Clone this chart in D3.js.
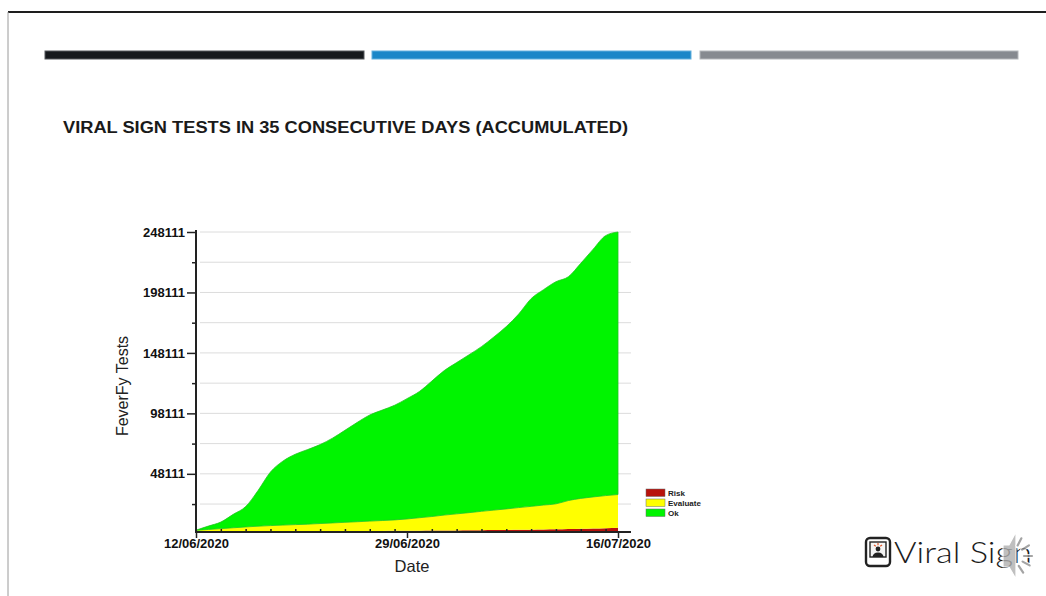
<!DOCTYPE html>
<html>
<head>
<meta charset="utf-8">
<script src="https://cdn.jsdelivr.net/npm/d3@7"></script>
<style>
  body { margin: 0; background: #fff; }
  svg { display: block; }
  text { font-family: "Liberation Sans", Arial, Helvetica, sans-serif; }
</style>
</head>
<body>
<svg id="chart" width="1046" height="596"></svg>
<script>
// Days covered by the report
const days = [
  "12/06/2020","13/06/2020","14/06/2020","15/06/2020","16/06/2020","17/06/2020","18/06/2020",
  "19/06/2020","20/06/2020","21/06/2020","22/06/2020","23/06/2020","24/06/2020","25/06/2020",
  "26/06/2020","27/06/2020","28/06/2020","29/06/2020","30/06/2020","01/07/2020","02/07/2020",
  "03/07/2020","04/07/2020","05/07/2020","06/07/2020","07/07/2020","08/07/2020","09/07/2020",
  "10/07/2020","11/07/2020","12/07/2020","13/07/2020","14/07/2020","15/07/2020","16/07/2020"
];

// Accumulated tests per result class
const riskTotals = [
  0, 50, 100, 150, 200, 260, 320, 380, 440, 500, 560, 620, 680, 740, 800, 870, 940, 1010,
  1090, 1170, 1250, 1340, 1430, 1520, 1620, 1720, 1830, 1950, 2080, 2220, 2450, 2700, 2950, 3200, 3450
];
const evaluateTotals = [
  1400, 2050, 2700, 3350, 4000, 4540, 4980, 5320, 5660, 6000, 6440, 6880, 7320, 7760, 8200, 8630,
  9060, 9790, 10710, 11630, 12750, 13660, 14570, 15580, 16480, 17380, 18370, 19250, 20220, 21080,
  23550, 25100, 26050, 26900, 27550
];
const okTotals = [
  100, 2800, 5400, 11100, 16800, 29500, 44300, 52900, 58200, 61700, 65300, 70100, 76100, 82200,
  87800, 91300, 94800, 99500, 104400, 112000, 119500, 125100, 130600, 136200, 143200, 150800,
  160100, 171800, 178100, 183700, 185100, 194400, 204900, 215000, 217111
];

// Axis ticks
const yMajorTicks = [48111, 98111, 148111, 198111, 248111];
const yMinorTicks = [23111, 73111, 123111, 173111, 223111];
const xMajorTicks = ["12/06/2020", "29/06/2020", "16/07/2020"];
const xMinorTicks = [
  "14/06/2020","16/06/2020","18/06/2020","20/06/2020","22/06/2020","24/06/2020","26/06/2020","28/06/2020",
  "01/07/2020","03/07/2020","05/07/2020","07/07/2020","09/07/2020","11/07/2020","13/07/2020","15/07/2020"
];

const seriesKeys = ["Risk", "Evaluate", "Ok"];
const seriesColors = { Risk: "#b8120c", Evaluate: "#ffff00", Ok: "#00f400" };

const parseDay = d3.timeParse("%d/%m/%Y");
const formatDay = d3.timeFormat("%d/%m/%Y");

const rows = days.map((d, i) => ({
  date: parseDay(d),
  Risk: riskTotals[i],
  Evaluate: evaluateTotals[i],
  Ok: okTotals[i]
}));

const svg = d3.select("#chart");

// ---- slide frame ----
svg.append("line").attr("x1", 8).attr("x2", 1046).attr("y1", 12).attr("y2", 12)
  .attr("stroke", "#1e1e1e").attr("stroke-width", 2);
svg.append("line").attr("x1", 8).attr("x2", 8).attr("y1", 12).attr("y2", 596)
  .attr("stroke", "#9a9a9a").attr("stroke-width", 1);

const bands = [
  { x: 45, w: 319, fill: "#16191d", edge: "#55585c" },
  { x: 372, w: 319, fill: "#1b87c8", edge: "#62b0de" },
  { x: 700, w: 318, fill: "#868a90", edge: "#b4b7bb" }
];
svg.selectAll("rect.band").data(bands).join("rect")
  .attr("class", "band")
  .attr("x", d => d.x).attr("y", 51).attr("width", d => d.w).attr("height", 8)
  .attr("fill", d => d.fill).attr("stroke", d => d.edge).attr("stroke-width", 1);

svg.append("text")
  .attr("x", 63).attr("y", 133)
  .attr("font-size", 16).attr("font-weight", "bold").attr("fill", "#1a1a1a")
  .attr("textLength", 565).attr("lengthAdjust", "spacingAndGlyphs")
  .text("VIRAL SIGN TESTS IN 35 CONSECUTIVE DAYS (ACCUMULATED)");

// ---- chart ----
const x = d3.scaleTime()
  .domain([parseDay(days[0]), parseDay(days[days.length - 1])])
  .range([196, 618]);
const y = d3.scaleLinear().domain([0, 248111]).range([532, 232]);

// grid lines at every tick
svg.append("g").selectAll("line")
  .data(yMajorTicks.concat(yMinorTicks)).join("line")
  .attr("x1", 200).attr("x2", 631)
  .attr("y1", d => y(d)).attr("y2", d => y(d))
  .attr("stroke", "#dcdcdc").attr("stroke-width", 1);

// stacked areas
const stacked = d3.stack().keys(seriesKeys)(rows);
const area = d3.area()
  .x(d => x(d.data.date))
  .y0(d => y(d[0]))
  .y1(d => y(d[1]))
  .curve(d3.curveMonotoneX);

svg.append("g").selectAll("path")
  .data(stacked).join("path")
  .attr("d", area)
  .attr("fill", d => seriesColors[d.key])
  .attr("stroke", d => d.key === "Ok" ? "#1fc41f" : "none")
  .attr("stroke-width", 0.8);

// y axis
const yAxis = svg.append("g").attr("transform", "translate(196,0)")
  .call(d3.axisLeft(y).tickValues(yMajorTicks).tickSize(9).tickSizeOuter(0)
    .tickPadding(2).tickFormat(d3.format("d")));
yAxis.select(".domain").remove();
yAxis.selectAll(".tick line").attr("stroke", "#222").attr("stroke-width", 1.5);
yAxis.selectAll(".tick text")
  .attr("font-size", 13).attr("font-weight", "bold").attr("fill", "#111")
  .style("font-family", "'Liberation Sans', Arial, sans-serif");

const yMinor = svg.append("g").attr("transform", "translate(196,0)")
  .call(d3.axisLeft(y).tickValues(yMinorTicks).tickSize(4).tickSizeOuter(0).tickFormat(""));
yMinor.select(".domain").remove();
yMinor.selectAll(".tick line").attr("stroke", "#222").attr("stroke-width", 1.5);

// x axis
const xAxis = svg.append("g").attr("transform", `translate(0,${y(0)})`)
  .call(d3.axisBottom(x).tickValues(xMajorTicks.map(parseDay)).tickSize(6)
    .tickSizeOuter(0).tickPadding(1).tickFormat(formatDay));
xAxis.select(".domain").remove();
xAxis.selectAll(".tick line").attr("stroke", "#222").attr("stroke-width", 1.5);
xAxis.selectAll(".tick text")
  .attr("font-size", 13).attr("font-weight", "bold").attr("fill", "#111")
  .style("font-family", "'Liberation Sans', Arial, sans-serif");

const xMinor = svg.append("g").attr("transform", `translate(0,${y(0)})`)
  .call(d3.axisBottom(x).tickValues(xMinorTicks.map(parseDay)).tickSize(-3)
    .tickSizeOuter(0).tickFormat(""));
xMinor.select(".domain").remove();
xMinor.selectAll(".tick line").attr("stroke", "#222").attr("stroke-width", 1.5);

// axis lines
svg.append("line").attr("x1", 196).attr("x2", 196).attr("y1", 230).attr("y2", y(0) + 1)
  .attr("stroke", "#222").attr("stroke-width", 2);
svg.append("line").attr("x1", 195).attr("x2", 631).attr("y1", y(0)).attr("y2", y(0))
  .attr("stroke", "#222").attr("stroke-width", 2);

// axis titles
svg.append("text")
  .attr("transform", "translate(128,386) rotate(-90)")
  .attr("text-anchor", "middle").attr("font-size", 16).attr("fill", "#222")
  .text("FeverFy Tests");
svg.append("text")
  .attr("x", 412).attr("y", 572).attr("text-anchor", "middle")
  .attr("font-size", 16.5).attr("fill", "#222")
  .text("Date");

// legend
const legend = svg.append("g").attr("transform", "translate(646,489)");
const li = legend.selectAll("g").data(seriesKeys).join("g")
  .attr("transform", (d, i) => `translate(0,${i * 10})`);
li.append("rect").attr("width", 19).attr("height", 7.5)
  .attr("fill", d => seriesColors[d]).attr("stroke", "#6a6a6a").attr("stroke-width", 0.5);
li.append("text").attr("x", 22).attr("y", 7)
  .attr("font-size", 8).attr("font-weight", "bold").attr("fill", "#222")
  .text(d => d);

// ---- brand mark ----
const logo = svg.append("g");
logo.append("rect").attr("x", 866).attr("y", 538).attr("width", 24).attr("height", 28).attr("rx", 4)
  .attr("fill", "#fff").attr("stroke", "#222").attr("stroke-width", 2.4);
logo.append("rect").attr("x", 870).attr("y", 542).attr("width", 16).attr("height", 15)
  .attr("fill", "#f4f4f4").attr("stroke", "#222").attr("stroke-width", 1.4);
logo.append("circle").attr("cx", 878).attr("cy", 549).attr("r", 2.4).attr("fill", "#222");
logo.append("path").attr("d", "M872.5,557 Q873,552.5 878,552.5 Q883,552.5 883.5,557 Z").attr("fill", "#222");
[[-4, -3], [0, -5], [4, -3]].forEach(([dx, dy]) => {
  logo.append("line").attr("x1", 878 + dx * 0.55).attr("y1", 548 + dy * 0.55)
    .attr("x2", 878 + dx).attr("y2", 548 + dy)
    .attr("stroke", "#e0572a").attr("stroke-width", 1.2);
});
logo.append("text").attr("x", 894).attr("y", 563)
  .attr("font-size", 29).attr("fill", "#1c1c1c")
  .attr("textLength", 138).attr("lengthAdjust", "spacingAndGlyphs")
  .style("font-family", "Lato, 'Open Sans', sans-serif").style("font-weight", 300)
  .text("Viral Sign");

// speaker overlay: cone plus radiating dashes
const spk = svg.append("g").attr("opacity", 0.8);
spk.append("path")
  .attr("d", "M1003,545 L1009,545 L1016,532 L1016,579 L1009,567 L1003,567 Z")
  .attr("fill", "#b0b0b0").attr("stroke", "#fff").attr("stroke-width", 1.2);
const rayAngles = [-62, -32, 0, 28, 56];
rayAngles.forEach(a => {
  const r = a * Math.PI / 180, cx = 1012, cy = 556;
  const x1 = cx + 12 * Math.cos(r), y1 = cy + 12 * Math.sin(r);
  const x2 = cx + 20 * Math.cos(r), y2 = cy + 20 * Math.sin(r);
  spk.append("line").attr("x1", x1).attr("y1", y1).attr("x2", x2).attr("y2", y2)
    .attr("stroke", "#fff").attr("stroke-width", 4.2).attr("stroke-linecap", "round");
  spk.append("line").attr("x1", x1).attr("y1", y1).attr("x2", x2).attr("y2", y2)
    .attr("stroke", "#8e8e8e").attr("stroke-width", 2.2).attr("stroke-linecap", "round");
});
</script>
</body>
</html>
